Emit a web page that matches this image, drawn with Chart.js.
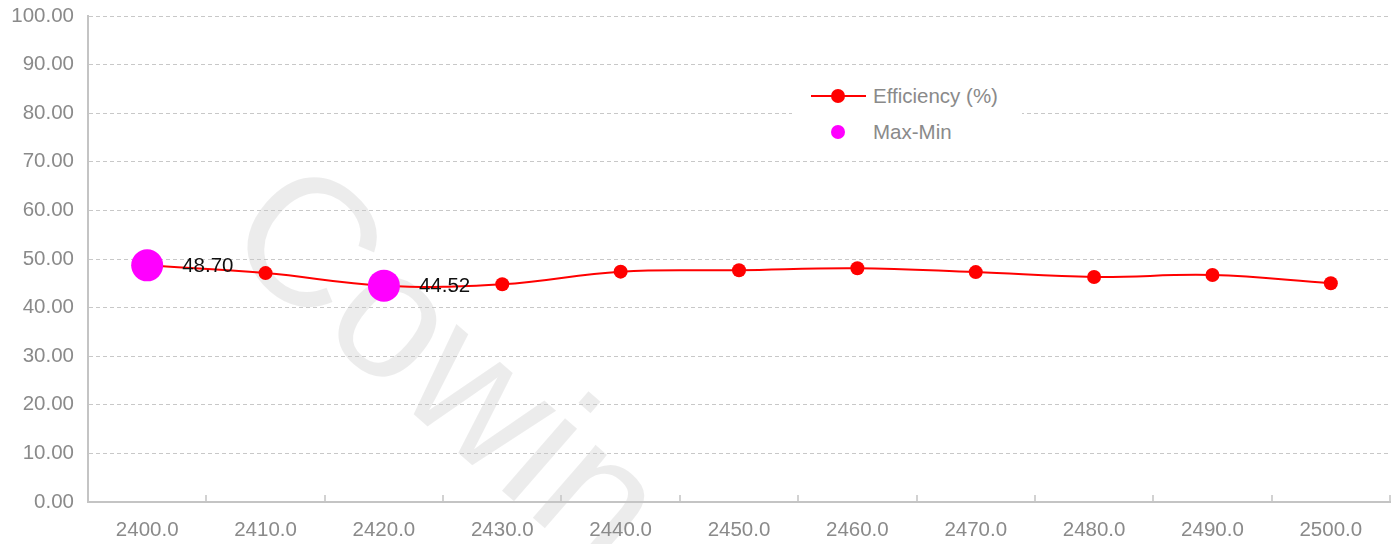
<!DOCTYPE html>
<html>
<head>
<meta charset="utf-8">
<script src="https://cdn.jsdelivr.net/npm/chart.js@4/dist/chart.umd.min.js"></script>
<style>
  html, body { margin: 0; padding: 0; background: #fff; }
  #wrap { position: relative; width: 1399px; height: 544px; }
  #legend { position: absolute; left: 792px; top: 70px; width: 230px; height: 86px; background: #fff;
            font: 20.5px "Liberation Sans", Arial, sans-serif; color: #8a8a8a; }
  .row { position: absolute; left: 0; height: 24px; width: 100%; }
  .row svg { position: absolute; left: 18px; top: 0; }
  .row span { position: absolute; left: 81px; top: 0; line-height: 24px; }
</style>
</head>
<body>
<div id="wrap">
  <canvas id="chart" width="1399" height="544"></canvas>
  <div id="legend"></div>
</div>
<script>
const wavelengths = ['2400.0', '2410.0', '2420.0', '2430.0', '2440.0', '2450.0',
                     '2460.0', '2470.0', '2480.0', '2490.0', '2500.0'];
const efficiency = [48.70, 47.1, 44.52, 44.8, 47.4, 47.7, 48.1, 47.3, 46.3, 46.7, 45.0];
// only the max and min points are marked
const maxMin = [48.70, null, 44.52, null, null, null, null, null, null, null, null];

const FONT = '"Liberation Sans", Arial, sans-serif';
const GREY = '#8a8a8a';
const AXIS = '#c4c4c4';

// Faint diagonal watermark under everything.
const watermark = {
  id: 'watermark',
  beforeDraw(chart) {
    const ctx = chart.ctx;
    ctx.save();
    ctx.translate(218, 244);
    ctx.rotate(41 * Math.PI / 180);
    ctx.font = '182px ' + FONT;
    ctx.fillStyle = 'rgba(0,0,0,0.075)';
    ctx.textBaseline = 'alphabetic';
    ctx.fillText('Cowin', 0, 0);
    ctx.restore();
  }
};

// Small tick marks pointing up from the x axis, between categories.
const innerTicks = {
  id: 'innerTicks',
  afterDraw(chart) {
    const x = chart.scales.x;
    const half = (x.getPixelForValue(1) - x.getPixelForValue(0)) / 2;
    const bottom = chart.chartArea.bottom;
    const ctx = chart.ctx;
    ctx.save();
    ctx.strokeStyle = AXIS;
    ctx.lineWidth = 1.5;
    ctx.beginPath();
    for (let i = 0; i < wavelengths.length; i++) {
      const px = Math.round(x.getPixelForValue(i) + half);
      ctx.moveTo(px, bottom);
      ctx.lineTo(px, bottom - 7);
    }
    ctx.stroke();
    ctx.restore();
  }
};

// Value labels to the right of the max/min markers.
const maxMinLabels = {
  id: 'maxMinLabels',
  afterDatasetsDraw(chart) {
    const ctx = chart.ctx;
    const meta = chart.getDatasetMeta(1);
    ctx.save();
    ctx.font = '20.5px ' + FONT;
    ctx.fillStyle = '#111';
    ctx.textAlign = 'left';
    ctx.textBaseline = 'middle';
    meta.data.forEach((pt, i) => {
      if (maxMin[i] == null) return;
      ctx.fillText(maxMin[i].toFixed(2), pt.x + 35, pt.y + 1);
    });
    ctx.restore();
  }
};

const chart = new Chart(document.getElementById('chart'), {
  type: 'line',
  data: {
    labels: wavelengths,
    datasets: [{
      label: 'Efficiency (%)',
      data: efficiency,
      borderColor: '#ff0000',
      backgroundColor: '#ff0000',
      borderWidth: 2,
      pointRadius: 7,
      pointHoverRadius: 7,
      pointBorderWidth: 0,
      tension: 0.4,
      order: 2
    }, {
      label: 'Max-Min',
      data: maxMin,
      showLine: false,
      borderColor: '#ff00ff',
      backgroundColor: '#ff00ff',
      pointRadius: 16,
      pointHoverRadius: 16,
      pointBorderWidth: 0,
      order: 1
    }]
  },
  options: {
    responsive: false,
    animation: false,
    // big markers would otherwise push the plot area in
    layout: { autoPadding: false, padding: { left: 0, right: 9, top: 16, bottom: 0 } },
    plugins: {
      legend: { display: false },
      tooltip: { enabled: false }
    },
    scales: {
      x: {
        offset: true,
        grid: { display: false, offset: true },
        border: { display: true, color: AXIS, width: 2 },
        ticks: { color: GREY, font: { family: FONT, size: 20.5 }, padding: 8, maxRotation: 0 },
        afterFit(scale) { scale.height = 42; }
      },
      y: {
        min: 0,
        max: 100,
        ticks: {
          stepSize: 10,
          color: GREY,
          font: { family: FONT, size: 20.5 },
          padding: 14,
          callback: v => v.toFixed(2)
        },
        // border.dash dashes the grid lines; the axis line itself stays solid
        grid: { color: '#c8c8c8', lineWidth: 1, drawTicks: false },
        border: { display: true, color: AXIS, width: 2, dash: [4, 3] },
        afterFit(scale) {
          scale.width = 88;
          scale.paddingTop = 0;
          scale.paddingBottom = 0;
        }
      }
    }
  },
  plugins: [watermark, innerTicks, maxMinLabels]
});

// HTML legend built from the datasets.
function buildLegend() {
  const box = document.getElementById('legend');
  chart.data.datasets.forEach((ds, i) => {
    const row = document.createElement('div');
    row.className = 'row';
    row.style.top = (14 + i * 36) + 'px';
    const line = ds.showLine === false ? '' :
      `<line x1="1" y1="12" x2="56" y2="12" stroke="${ds.borderColor}" stroke-width="2"/>`;
    row.innerHTML = `<svg width="58" height="24">${line}<circle cx="28" cy="12" r="7" fill="${ds.backgroundColor}"/></svg>` +
      `<span>${ds.label}</span>`;
    box.appendChild(row);
  });
}
buildLegend();
</script>
</body>
</html>
